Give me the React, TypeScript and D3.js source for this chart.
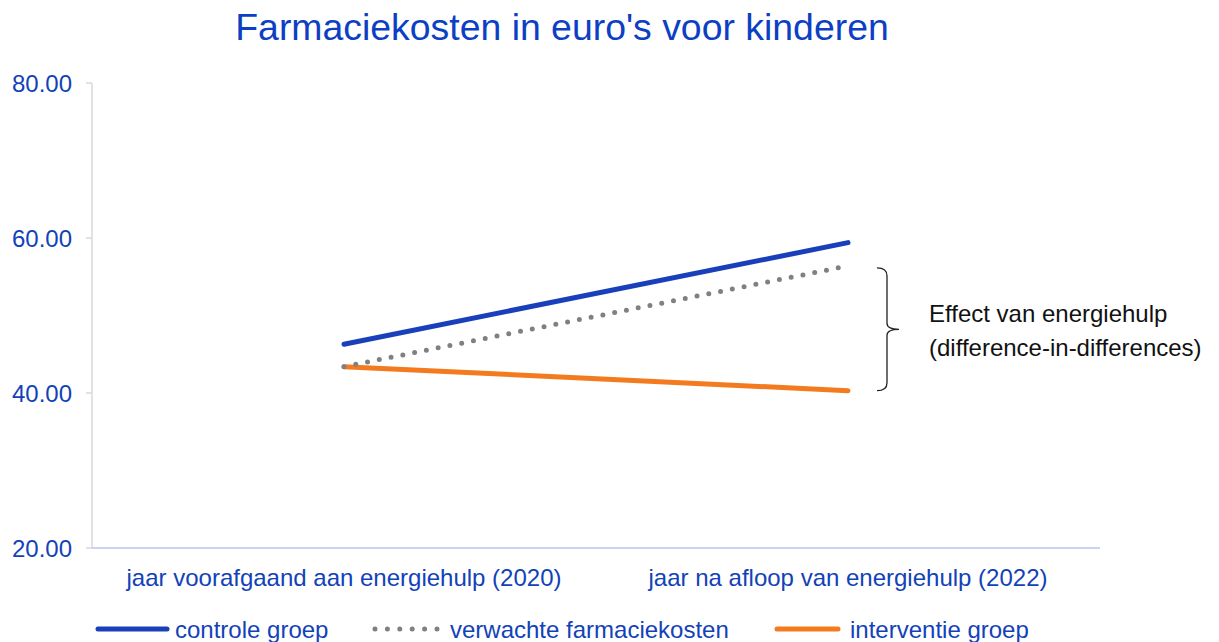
import React from "react";
import * as d3 from "d3";

const categories = ["jaar voorafgaand aan energiehulp (2020)", "jaar na afloop van energiehulp (2022)"];
const controle = [46.3, 59.4];
const verwacht = [43.4, 56.4];
const interventie = [43.4, 40.3];
const yTicks = [20, 40, 60, 80];
const seriesNames = ["controle groep", "verwachte farmaciekosten", "interventie groep"];

const W = 1219, H = 642;
const FONT = "'Liberation Sans', Arial, sans-serif";
const BLUE_TEXT = "#1242b8";
const TITLE_BLUE = "#0c3fc4";
const BLUE = "#1a3fba";
const ORANGE = "#f47a1f";
const GRAY = "#808080";

export default function App() {
  const x0 = 92, x1 = 1100;
  const x = d3.scalePoint<string>().domain(categories).range([x0, x1]).padding(0.5);
  const y = d3.scaleLinear().domain([20, 80]).range([548, 83]);
  const line = d3.line<number>().x((_, i) => x(categories[i]) as number).y((d) => y(d));

  const bTop = y(verwacht[1]) + 2;
  const bBot = y(interventie[1]);
  const bMid = (bTop + bBot) / 2;
  const bx = 877;

  const legend = [
    { name: seriesNames[0], color: BLUE, dash: undefined, lx: 98, lw: 69, tx: 175 },
    { name: seriesNames[1], color: GRAY, dash: "0 12.4", lx: 375, lw: 63, tx: 450 },
    { name: seriesNames[2], color: ORANGE, dash: undefined, lx: 777, lw: 61, tx: 850 },
  ];

  return (
    <svg width={W} height={H} style={{ position: "absolute", left: 0, top: 0, background: "#fff" }} fontFamily={FONT}>
      <text x={562} y={40} textAnchor="middle" fontSize={37.4} fill={TITLE_BLUE}>Farmaciekosten in euro's voor kinderen</text>
      <line x1={x0} x2={x0} y1={y(80)} y2={y(20)} stroke="#d9d9d9" strokeWidth={1.5} />
      {yTicks.map((t) => (
        <g key={t}>
          <line x1={x0 - 6} x2={x0} y1={y(t)} y2={y(t)} stroke="#d9d9d9" strokeWidth={1.5} />
          <text x={72} y={y(t) + 8.5} textAnchor="end" fontSize={24} fill={BLUE_TEXT}>{t.toFixed(2)}</text>
        </g>
      ))}
      <line x1={x0} x2={x1} y1={y(20)} y2={y(20)} stroke="#b4c7f2" strokeWidth={1.5} />
      {categories.map((c) => (
        <text key={c} x={x(c) as number} y={586} textAnchor="middle" fontSize={24} fill={BLUE_TEXT}>{c}</text>
      ))}
      <path d={line(controle) as string} fill="none" stroke={BLUE} strokeWidth={5} strokeLinecap="round" />
      <path d={line(interventie) as string} fill="none" stroke={ORANGE} strokeWidth={5} strokeLinecap="round" />
      <path d={line(verwacht) as string} fill="none" stroke={GRAY} strokeWidth={5} strokeLinecap="round" strokeDasharray="0 12" />
      <path
        d={`M${bx},${bTop} Q${bx + 10},${bTop} ${bx + 10},${bTop + 8} L${bx + 10},${bMid - 6} Q${bx + 10},${bMid} ${bx + 22},${bMid} Q${bx + 10},${bMid} ${bx + 10},${bMid + 6} L${bx + 10},${bBot - 8} Q${bx + 10},${bBot} ${bx},${bBot}`}
        fill="none" stroke="#222" strokeWidth={1.3}
      />
      <text x={929} y={322} fontSize={24} fill="#111">Effect van energiehulp</text>
      <text x={929} y={356} fontSize={24} fill="#111">(difference-in-differences)</text>
      {legend.map((l) => (
        <g key={l.name}>
          <line x1={l.lx} x2={l.lx + l.lw} y1={629} y2={629} stroke={l.color} strokeWidth={5} strokeLinecap="round" strokeDasharray={l.dash} />
          <text x={l.tx} y={638} fontSize={24} fill={BLUE_TEXT}>{l.name}</text>
        </g>
      ))}
    </svg>
  );
}
